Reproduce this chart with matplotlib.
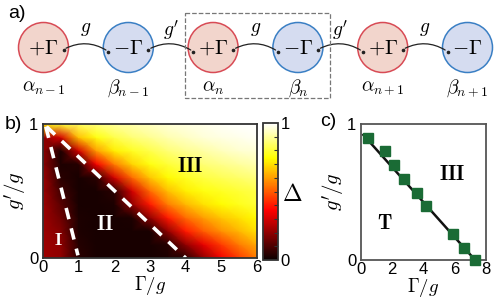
import numpy as np
import matplotlib
matplotlib.use("Agg")
import matplotlib.pyplot as plt
from matplotlib.patches import Circle, Rectangle, FancyArrowPatch

plt.rcParams['font.family'] = ['Liberation Sans', 'DejaVu Sans']
plt.rcParams['mathtext.fontset'] = 'cm'

# ---- panel a: chain of sites ----
site_text = [r'$+\Gamma$', r'$-\Gamma$', r'$+\Gamma$', r'$-\Gamma$', r'$+\Gamma$', r'$-\Gamma$']
site_names = [r'$\alpha_{n-1}$', r'$\beta_{n-1}$', r'$\alpha_n$', r'$\beta_n$', r'$\alpha_{n+1}$', r'$\beta_{n+1}$']
couplings = [r'$g$', r"$g'$", r'$g$', r"$g'$", r'$g$']

# ---- panel b: gap map Delta(Gamma/g, g'/g) ----
gamma_grid = [0, 0.5, 1, 1.5, 2, 2.5, 3, 3.5, 4, 4.5, 5, 5.5, 6]
gp_grid = [0, 0.1, 0.2, 0.3, 0.4, 0.5, 0.6, 0.7, 0.8, 0.9, 1.0]
delta = [
    [0.22, 0.20, 0.05, 0.02, 0.02, 0.02, 0.02, 0.03, 0.05, 0.20, 0.35, 0.45, 0.55],
    [0.22, 0.20, 0.04, 0.02, 0.02, 0.02, 0.02, 0.04, 0.20, 0.33, 0.45, 0.55, 0.62],
    [0.22, 0.18, 0.03, 0.02, 0.02, 0.02, 0.02, 0.20, 0.40, 0.50, 0.58, 0.64, 0.70],
    [0.22, 0.15, 0.03, 0.02, 0.02, 0.03, 0.20, 0.40, 0.52, 0.60, 0.66, 0.70, 0.74],
    [0.22, 0.12, 0.02, 0.02, 0.03, 0.20, 0.40, 0.55, 0.64, 0.70, 0.74, 0.77, 0.80],
    [0.22, 0.08, 0.02, 0.02, 0.05, 0.30, 0.52, 0.65, 0.72, 0.76, 0.78, 0.80, 0.82],
    [0.22, 0.05, 0.02, 0.05, 0.30, 0.52, 0.66, 0.74, 0.78, 0.81, 0.83, 0.85, 0.87],
    [0.20, 0.03, 0.04, 0.35, 0.55, 0.68, 0.76, 0.80, 0.83, 0.86, 0.88, 0.90, 0.92],
    [0.20, 0.03, 0.30, 0.60, 0.72, 0.78, 0.82, 0.86, 0.89, 0.91, 0.93, 0.95, 0.96],
    [0.20, 0.30, 0.65, 0.76, 0.82, 0.86, 0.89, 0.92, 0.94, 0.96, 0.97, 0.98, 0.99],
    [0.70, 0.80, 0.84, 0.87, 0.90, 0.92, 0.94, 0.96, 0.97, 0.98, 0.99, 1.00, 1.00],
]
bound12_x = [0.08, 0.98]
bound12_y = [0.98, 0.02]
bound23_x = [0.1, 4.0]
bound23_y = [0.98, 0.0]

# ---- panel c: transition points ----
c_gamma = [0.43, 1.55, 2.09, 2.77, 3.59, 4.13, 5.87, 6.60, 7.29]
c_gp = [0.895, 0.80, 0.70, 0.595, 0.495, 0.397, 0.19, 0.09, 0.0]
fit_x = [0.15, 7.3]
fit_y = [0.92, 0.0]

W, H = 498, 298
fig = plt.figure(figsize=(W / 100, H / 100), dpi=100)

# panel a in pixel coordinates
ax_a = fig.add_axes([0, 1 - 110 / H, 1, 110 / H])
ax_a.set_xlim(0, W)
ax_a.set_ylim(110, 0)
ax_a.axis('off')
x0, dx, yc, r = 43.5, 84.8, 47.5, 25
for i in range(len(site_text)):
    cx = x0 + i * dx
    if i % 2 == 0:
        fc, ec = '#f2d5cc', '#d84b55'
    else:
        fc, ec = '#d5dcf0', '#3a7fc4'
    ax_a.add_patch(Circle((cx, yc), r, facecolor=fc, edgecolor=ec, lw=1.1))
    ax_a.text(cx, yc + 1, site_text[i], ha='center', va='center', fontsize=15)
    ax_a.text(cx, 88, site_names[i], ha='center', va='center', fontsize=14)
for i in range(len(couplings)):
    xa = x0 + i * dx + 20
    xb = x0 + (i + 1) * dx - 20
    arc = FancyArrowPatch((xa, yc + 2), (xb, yc + 4), connectionstyle='arc3,rad=-0.3',
                          arrowstyle='-', lw=0.9, color='#222222')
    ax_a.add_patch(arc)
    ax_a.plot([xa, xb], [yc + 2, yc + 4], 'o', ms=1.6, color='#222222')
    ax_a.text((xa + xb) / 2, 30, couplings[i], ha='center', va='center', fontsize=14)
ax_a.add_patch(Rectangle((185, 13), 145, 85, fill=False, ls='--', lw=0.9, ec='#777777'))
fig.text(8 / W, 1 - 14 / H, 'a)', fontsize=14, va='center', ha='left')

# panel b
ax_b = fig.add_axes([43 / W, (H - 258) / H, 214 / W, 134 / H])
ax_b.pcolormesh(gamma_grid, gp_grid, np.array(delta), cmap='hot', vmin=0, vmax=1,
                shading='gouraud', rasterized=True)
ax_b.plot(bound12_x, bound12_y, color='white', ls=(0, (3.2, 2.6)), lw=2.6)
ax_b.plot(bound23_x, bound23_y, color='white', ls=(0, (3.2, 2.6)), lw=2.6)
ax_b.set_xlim(0, 6)
ax_b.set_ylim(0, 1)
ax_b.set_xticks(range(7))
ax_b.set_yticks([0, 1])
ax_b.tick_params(length=0, labelsize=12, pad=1.5)
ax_b.tick_params(axis='y', pad=3.5)
for s in ax_b.spines.values():
    s.set_color('#333333')
    s.set_linewidth(1.3)
ax_b.set_xlabel(r'$\Gamma/g$', fontsize=13.5, labelpad=-0.5)
ax_b.set_ylabel(r"$g'/g$", fontsize=15, labelpad=0)
ax_b.text(0.42, 0.13, r'$\mathbf{I}$', color='white', fontsize=13, ha='center', va='center')
ax_b.text(1.74, 0.25, r'$\mathbf{II}$', color='white', fontsize=15, ha='center', va='center')
ax_b.text(4.12, 0.68, r'$\mathbf{III}$', color='black', fontsize=15, ha='center', va='center')
fig.text(5 / W, 1 - 124 / H, 'b)', fontsize=14, va='center', ha='left')

# colorbar
cax = fig.add_axes([263 / W, (H - 260) / H, 15 / W, 137 / H])
sm = plt.cm.ScalarMappable(cmap='hot', norm=plt.Normalize(0, 1))
cb = fig.colorbar(sm, cax=cax, ticks=[0, 1])
cb.ax.tick_params(labelsize=12, length=0, pad=2)
cb.ax.set_yticks(np.arange(0.1, 1.0, 0.1), minor=True)
cb.ax.tick_params(which='minor', direction='in', length=3, color='#333333', width=0.8)
cb.outline.set_edgecolor('#333333')
cb.outline.set_linewidth(1.3)
fig.text(292 / W, 1 - 195 / H, r'$\Delta$', fontsize=17, ha='center', va='center')

# panel c
ax_c = fig.add_axes([361 / W, (H - 260) / H, 125 / W, 136 / H])
ax_c.plot(fit_x, fit_y, color='#111111', lw=1.8, zorder=2)
ax_c.plot(c_gamma, c_gp, 's', color='#1a6b35', ms=6.5, zorder=3, clip_on=False)
ax_c.set_xlim(0, 8)
ax_c.set_ylim(0, 1)
ax_c.set_xticks([0, 2, 4, 6, 8])
ax_c.set_yticks([0, 1])
ax_c.tick_params(length=0, labelsize=12, pad=1.5)
ax_c.tick_params(axis='y', pad=3.5)
for s in ax_c.spines.values():
    s.set_color('#555555')
    s.set_linewidth(1.3)
ax_c.set_xlabel(r'$\Gamma/g$', fontsize=13.5, labelpad=-0.5)
ax_c.set_ylabel(r"$g'/g$", fontsize=15, labelpad=0)
ax_c.text(5.8, 0.63, r'$\mathbf{III}$', fontsize=15, ha='center', va='center')
ax_c.text(1.55, 0.27, r'$\mathbf{T}$', fontsize=15, ha='center', va='center')
fig.text(320 / W, 1 - 122 / H, 'c)', fontsize=14, va='center', ha='left')

fig.savefig('out.png', dpi=100)
